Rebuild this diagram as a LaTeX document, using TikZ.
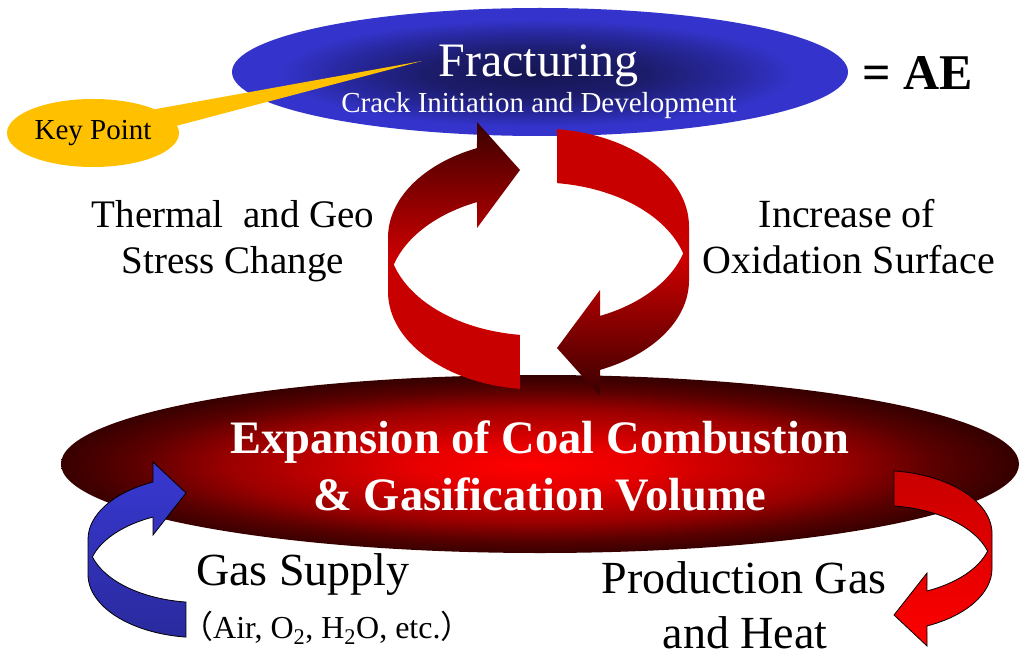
\documentclass[tikz,border=0pt]{standalone}
\usepackage{fontspec}
\setmainfont{Liberation Serif}
\newfontfamily\cjk{Noto Sans CJK JP}
\usetikzlibrary{shapes.geometric,calc}
\newcommand\setfs[1]{\fontsize{#1}{#1}\selectfont}
\definecolor{fracblue}{HTML}{3434CC}
\definecolor{fracdark}{HTML}{151552}
\definecolor{fracmid}{HTML}{1C1C6C}
\definecolor{fracmid2}{HTML}{2828A0}
\definecolor{kpyellow}{HTML}{FFC000}
\definecolor{rc0}{HTML}{FF0000}
\definecolor{rc1}{HTML}{E80000}
\definecolor{rc2}{HTML}{9A0000}
\definecolor{rc3}{HTML}{5A0000}
\definecolor{rc4}{HTML}{360000}
\definecolor{cdark}{HTML}{3A0000}
\definecolor{cred}{HTML}{C80000}
\definecolor{sblue}{HTML}{3838D2}
\definecolor{sbluedk}{HTML}{2A2A9E}
\definecolor{sred}{HTML}{FF0000}
\definecolor{sreddk}{HTML}{C80000}
\pgfdeclareradialshading{blueglow}{\pgfpoint{-0.4bp}{-0.8bp}}{color(0bp)=(fracdark); color(9bp)=(fracmid); color(16bp)=(fracmid2); color(21bp)=(fracblue); color(50bp)=(fracblue)}
\pgfdeclareradialshading{redglow}{\pgfpoint{-0.5bp}{-0.5bp}}{color(0bp)=(rc0); color(6bp)=(rc1); color(16bp)=(rc2); color(21bp)=(rc3); color(25bp)=(rc4); color(50bp)=(rc4)}
\tikzset{
  lbl/.style={anchor=base, inner sep=0pt, text=black},
  wlbl/.style={anchor=base, inner sep=0pt, text=white},
  bigleft/.style={top color=cdark, bottom color=cred, middle color=cred},
  bigright/.style={top color=cred, bottom color=cdark, middle color=cred},
  bluearrow/.style={draw=black, line width=0.8pt, top color=sblue, bottom color=sbluedk},
  redarrow/.style={draw=black, line width=0.8pt, top color=sreddk, bottom color=sred},
}
\begin{document}
\begin{tikzpicture}[x=1pt,y=-1pt]
\useasboundingbox[fill=white] (0,0) rectangle (1024,663);

% Fracturing ellipse
\node[ellipse, minimum width=616pt, minimum height=128pt, inner sep=0pt, shade, shading=blueglow] (frac) at (540,72) {};

% Key point callout
\coordinate (kptip) at (422,61);
\node[ellipse, fill=kpyellow, minimum width=172pt, minimum height=68pt, inner sep=0pt, font=\setfs{29}] (kp) at (93,133) {Key Point};
\fill[kpyellow] (kp.21) -- (kptip) -- (kp.5) -- cycle;

% Central ellipse
\node[ellipse, minimum width=958pt, minimum height=178pt, inner sep=0pt, shade, shading=redglow] (core) at (540,464) {};

% Big cycle arrows
\path[bigleft] ({538+150*cos(96.9)},{291.6+98*sin(96.9)})
  arc[start angle=96.9, end angle=180, x radius=150, y radius=98] -- ++(0,-54)
  arc[start angle=180, end angle=246, x radius=150, y radius=98]
  -- (477,122) -- (520,170) -- (477,228)
  -- ({538+150*cos(246)},{291.6+98*sin(246)})
  arc[start angle=246, end angle=196, x radius=150, y radius=98]
  arc[start angle=164, end angle=96.9, x radius=150, y radius=98] -- cycle;
\path[bigright, rotate around={180:(538.5,259)}] ({538+150*cos(96.9)},{291.6+98*sin(96.9)})
  arc[start angle=96.9, end angle=180, x radius=150, y radius=98] -- ++(0,-54)
  arc[start angle=180, end angle=246, x radius=150, y radius=98]
  -- (477,122) -- (520,170) -- (477,228)
  -- ({538+150*cos(246)},{291.6+98*sin(246)})
  arc[start angle=246, end angle=196, x radius=150, y radius=98]
  arc[start angle=164, end angle=96.9, x radius=150, y radius=98] -- cycle;

% Small arrows
\path[bluearrow] ({200+112*cos(97.2)},{574.4+63.2*sin(97.2)})
  arc[start angle=97.2, end angle=180, x radius=112, y radius=63.2] -- ++(0,-35)
  arc[start angle=180, end angle=245.2, x radius=112, y radius=63.2]
  -- (153,462) -- (186,493) -- (153,535)
  -- ({200+112*cos(245.2)},{574.4+63.2*sin(245.2)})
  arc[start angle=245.2, end angle=196.1, x radius=112, y radius=63.2]
  arc[start angle=163.9, end angle=97.2, x radius=112, y radius=63.2] -- cycle;
\path[redarrow, rotate around={180:(540,554)}] ({200+112*cos(97.2)},{574.4+63.2*sin(97.2)})
  arc[start angle=97.2, end angle=180, x radius=112, y radius=63.2] -- ++(0,-35)
  arc[start angle=180, end angle=245.2, x radius=112, y radius=63.2]
  -- (153,462) -- (186,493) -- (153,535)
  -- ({200+112*cos(245.2)},{574.4+63.2*sin(245.2)})
  arc[start angle=245.2, end angle=196.1, x radius=112, y radius=63.2]
  arc[start angle=163.9, end angle=97.2, x radius=112, y radius=63.2] -- cycle;

% Texts
\node[wlbl, font=\setfs{48}] (fracT) at (538.5,77) {Fracturing};
\node[wlbl, font=\setfs{29}] (fracS) at (539,113) {Crack Initiation and Development};
\node[lbl, font=\setfs{50}\bfseries] (ae) at (917.5,90) {= AE};

\node[lbl, font=\setfs{39}] (th1) at (233,227) {Thermal\ \ and Geo};
\node[lbl, font=\setfs{39}] (th2) at (233,273) {Stress Change};
\node[lbl, font=\setfs{40}] (ox1) at (847,227) {Increase of};
\node[lbl, font=\setfs{40}] (ox2) at (849,273) {Oxidation Surface};

\node[wlbl, font=\setfs{46.5}\bfseries] (core1) at (540,453) {Expansion of Coal Combustion};
\node[wlbl, font=\setfs{46.5}\bfseries] (core2) at (540,510) {\& Gasification Volume};

\node[lbl, font=\setfs{46}, anchor=base west] (gas1) at (196,585) {Gas Supply};
\node[lbl, font=\setfs{32}, anchor=base west] (gas2) at (181,638) {{\cjk （}Air, O\textsubscript{2}, H\textsubscript{2}O, etc.{\cjk ）}};
\node[lbl, font=\setfs{46}] (prod1) at (744,593) {Production Gas};
\node[lbl, font=\setfs{46}] (prod2) at (745,648) {and Heat};
\end{tikzpicture}
\end{document}
